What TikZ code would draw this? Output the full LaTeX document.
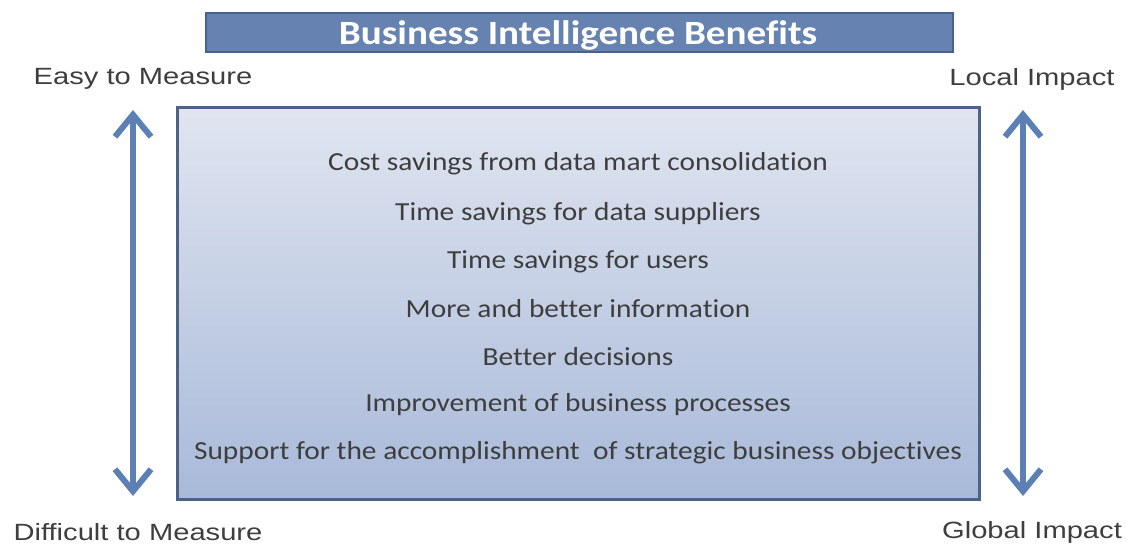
\documentclass[tikz,border=0pt]{standalone}
\usepackage{fontspec}
\setmainfont[Ligatures=NoCommon]{Carlito}
\newfontfamily\labelfont{Liberation Sans}
\usetikzlibrary{arrows.meta}
\definecolor{titlefill}{RGB}{102,130,176}
\definecolor{titleedge}{RGB}{72,98,140}
\definecolor{boxtop}{RGB}{224,229,240}
\definecolor{boxbottom}{RGB}{168,185,217}
\definecolor{boxedge}{RGB}{78,98,134}
\definecolor{arrowblue}{RGB}{92,127,181}
\definecolor{bodytext}{RGB}{62,62,62}
\tikzset{
  benefit/.style={font=\fontsize{26}{30}\selectfont, text=bodytext, xscale=1.13, inner sep=0pt},
  sidelabel/.style={font=\labelfont\fontsize{23.5}{27}\selectfont, text=bodytext, xscale=1.24, inner sep=0pt},
  scalearrow/.style={draw=arrowblue, line width=6pt, line cap=round, line join=round,
    {Straight Barb[length=22pt, width=36pt]}-{Straight Barb[length=22pt, width=36pt]}}
}
\begin{document}
\begin{tikzpicture}[x=1pt, y=-1pt]
  \useasboundingbox (0,0) rectangle (1127,545);
  % title banner
  \node[draw=titleedge, line width=2pt, fill=titlefill, minimum width=747pt, minimum height=39pt,
        inner sep=0pt] (title) at (579,32.5) {};
  \node[text=white, font=\bfseries\fontsize{34}{38}\selectfont, xscale=1.15, inner sep=0pt]
        (titletext) at (578,35) {Business Intelligence Benefits};
  % main benefit panel with vertical shading
  \node[draw=boxedge, line width=3pt, top color=boxtop, bottom color=boxbottom,
        minimum width=802pt, minimum height=392pt, inner sep=0pt]
        (panel) at (578.5,303.5) {};
  \node[benefit] (b1) at (578,164) {Cost savings from data mart consolidation};
  \node[benefit] (b2) at (578,214) {Time savings for data suppliers};
  \node[benefit] (b3) at (578,262) {Time savings for users};
  \node[benefit] (b4) at (578,309) {More and better information};
  \node[benefit] (b5) at (578,357) {Better decisions};
  \node[benefit] (b6) at (578,405) {Improvement of business processes};
  \node[benefit] (b7) at (578,453) {Support for the accomplishment\ \ of strategic business objectives};
  % side scales
  \node[sidelabel] (easy) at (143,79) {Easy to Measure};
  \node[sidelabel] (hard) at (138,532) {Difficult to Measure};
  \node[sidelabel] (local) at (1032,79) {Local Impact};
  \node[sidelabel] (global) at (1032,532) {Global Impact};
  \coordinate (lt) at (133,110);
  \coordinate (lb) at (133,496);
  \coordinate (rt) at (1023,110);
  \coordinate (rb) at (1023,496);
  \draw[scalearrow] (lb) -- (lt);
  \draw[scalearrow] (rb) -- (rt);
\end{tikzpicture}
\end{document}
